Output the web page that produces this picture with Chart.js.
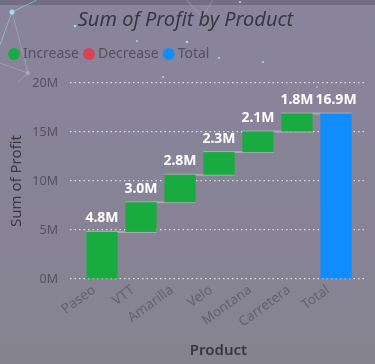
<!DOCTYPE html>
<html>
<head>
<meta charset="utf-8">
<script src="https://cdn.jsdelivr.net/npm/chart.js@4.4.1/dist/chart.umd.min.js"></script>
<style>
  html, body { margin: 0; padding: 0; background: #87839a; }
  #wrap { width: 375px; height: 364px; position: relative; }
</style>
</head>
<body>
<div id="wrap"><canvas id="profitChart"></canvas></div>
<script>
// data (millions)
const products = ["Paseo", "VTT", "Amarilla", "Velo", "Montana", "Carretera", "Total"];
const profitChange = [4.80, 3.03, 2.81, 2.31, 2.11, 1.83];
const totalProfit = 16.89;
const yTickValues = [0, 5, 10, 15, 20];
const legendNames = ["Increase", "Decrease", "Total"];
const legendColors = ["#1aab40", "#d64554", "#118dff"];

// floating bars for the waterfall
let running = 0;
const bars = [];
const barColors = [];
const barLabels = [];
profitChange.forEach((v, i) => {
  bars.push({ x: i, y: [running, running + v] });
  running += v;
  barColors.push(v >= 0 ? legendColors[0] : legendColors[1]);
  barLabels.push(v.toFixed(1) + "M");
});
bars.push({ x: profitChange.length, y: [0, totalProfit] });
barColors.push(legendColors[2]);
barLabels.push(totalProfit.toFixed(1) + "M");

const FONT = "'Noto Sans', 'Open Sans', sans-serif";

// background gradient + faint network decoration
const backdrop = {
  id: "backdrop",
  beforeDraw(chart) {
    const { ctx, width, height } = chart;
    ctx.save();
    const g = ctx.createLinearGradient(0, 0, 0, height);
    g.addColorStop(0, "#89849c");
    g.addColorStop(1, "#868391");
    ctx.fillStyle = g;
    ctx.fillRect(0, 0, width, height);
    ctx.fillStyle = "rgba(90,85,105,0.45)";
    ctx.fillRect(0, 0, width, 5);
    ctx.lineWidth = 1;
    ctx.strokeStyle = "rgba(150,220,235,0.55)";
    ctx.beginPath();
    ctx.moveTo(37, 0); ctx.lineTo(12, 12); ctx.lineTo(0, 45);
    ctx.stroke();
    ctx.strokeStyle = "rgba(200,200,215,0.35)";
    ctx.beginPath();
    ctx.moveTo(12, 12); ctx.lineTo(28, 73); ctx.lineTo(0, 63);
    ctx.moveTo(28, 73); ctx.lineTo(18, 82);
    ctx.moveTo(187, 0); ctx.lineTo(202, 17); ctx.lineTo(213, 0);
    ctx.stroke();
    ctx.fillStyle = "rgba(170,235,245,0.85)";
    [[12, 12, 2.5], [75, 26, 1.3], [137, 41, 1], [187, 42, 1.3], [219, 58, 1],
     [263, 62, 1], [163, 77, 1], [240, 2, 1], [317, 87, 0.8]].forEach(d => {
      ctx.beginPath(); ctx.arc(d[0], d[1], d[2], 0, Math.PI * 2); ctx.fill();
    });
    ctx.fillStyle = "rgba(190,190,205,0.6)";
    ctx.beginPath(); ctx.arc(28, 73, 2, 0, Math.PI * 2); ctx.fill();
    ctx.restore();
  }
};

// grey connectors between the steps
const connectors = {
  id: "connectors",
  beforeDatasetsDraw(chart) {
    const { ctx, scales: { y } } = chart;
    const els = chart.getDatasetMeta(0).data;
    ctx.save();
    ctx.strokeStyle = "rgba(172,170,180,0.95)";
    ctx.lineWidth = 2;
    for (let i = 0; i < els.length - 1; i++) {
      const level = y.getPixelForValue(bars[i].y[1]);
      const a = els[i], b = els[i + 1];
      ctx.beginPath();
      ctx.moveTo(a.x - a.width / 2, level);
      ctx.lineTo(b.x + b.width / 2, level);
      ctx.stroke();
    }
    ctx.restore();
  }
};

// white value labels above each bar
const valueLabels = {
  id: "valueLabels",
  afterDatasetsDraw(chart) {
    const { ctx } = chart;
    const els = chart.getDatasetMeta(0).data;
    ctx.save();
    ctx.fillStyle = "#ffffff";
    ctx.font = "bold 14px " + FONT;
    ctx.textAlign = "center";
    ctx.textBaseline = "alphabetic";
    els.forEach((el, i) => {
      const top = Math.min(el.y, el.base);
      ctx.fillText(barLabels[i], el.x, top - 9.5);
    });
    ctx.restore();
  }
};

// extra room under the legend
const legendSpace = {
  id: "legendSpace",
  beforeLayout(chart) {
    const lg = chart.legend;
    if (lg && !lg._padded) {
      const fit = lg.fit;
      lg.fit = function () { fit.call(this); this.height += 12; };
      lg._padded = true;
    }
  }
};

new Chart(document.getElementById("profitChart"), {
  type: "bar",
  data: {
    datasets: [{
      label: "Sum of Profit",
      data: bars,
      backgroundColor: barColors,
      borderWidth: 0,
      categoryPercentage: 0.8,
      barPercentage: 1.0
    }]
  },
  options: {
    responsive: true,
    maintainAspectRatio: false,
    animation: false,
    layout: { padding: { left: 4, right: 8, top: 0, bottom: 0 } },
    plugins: {
      tooltip: { enabled: false },
      title: {
        display: true,
        text: "Sum of Profit by Product",
        color: "#393741",
        font: { family: FONT, size: 20, style: "italic", weight: "normal" },
        padding: { top: 8, bottom: 7 }
      },
      legend: {
        display: true,
        align: "start",
        labels: {
          usePointStyle: true,
          pointStyle: "circle",
          boxWidth: 4,
          boxHeight: 8.5,
          padding: 8,
          color: "#55515f",
          font: { family: FONT, size: 14 },
          generateLabels: () => legendNames.map((name, i) => ({
            text: name,
            fillStyle: legendColors[i],
            strokeStyle: legendColors[i],
            lineWidth: 0,
            pointStyle: "circle",
            fontColor: "#55515f",
            hidden: false,
            index: i
          }))
        },
        onClick: () => {}
      }
    },
    scales: {
      x: {
        type: "linear",
        offset: false,
        min: -32 / 39,
        max: -32 / 39 + 297 / 39,
        grid: { display: false, offset: false },
        border: { display: false },
        afterBuildTicks: scale => { scale.ticks = products.map((_, i) => ({ value: i })); },
        afterFit: scale => { scale.height = 85; },
        ticks: {
          autoSkip: false,
          maxRotation: 36,
          minRotation: 36,
          padding: -5,
          labelOffset: -8,
          color: "#65616f",
          font: { family: FONT, size: 13.5 },
          callback: v => products[v]
        },
        title: {
          display: true,
          text: "Product",
          color: "#393741",
          font: { family: FONT, size: 15, weight: "600" },
          padding: { top: 0, bottom: 4 }
        }
      },
      y: {
        min: 0,
        max: 20,
        afterBuildTicks: scale => { scale.ticks = yTickValues.map(v => ({ value: v })); },
        afterFit: scale => { scale.width = 66; },
        grid: { color: "rgba(236,236,245,0.85)", lineWidth: 1.2, drawTicks: false },
        border: { display: false, dash: [1.5, 3] },
        ticks: {
          padding: 12,
          color: "#55515f",
          font: { family: FONT, size: 12.5 },
          callback: v => v + "M"
        },
        title: {
          display: true,
          text: "Sum of Profit",
          color: "#393741",
          font: { family: FONT, size: 15 },
          padding: { top: 4, bottom: 4 }
        }
      }
    }
  },
  plugins: [backdrop, connectors, valueLabels, legendSpace]
});
</script>
</body>
</html>
